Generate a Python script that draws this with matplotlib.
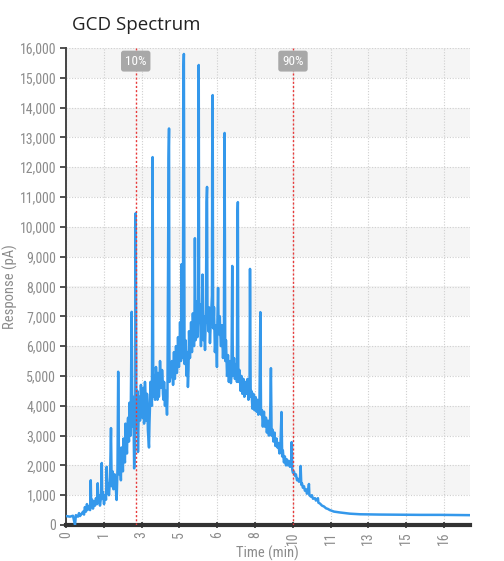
import numpy as np
import matplotlib
matplotlib.use("Agg")
import matplotlib.pyplot as plt
from matplotlib import font_manager

# retention time (min) and detector response (pA)
time_min = [
    0.00, 0.18, 0.31, 0.40, 0.44, 0.53, 0.58, 0.62, 0.67, 0.76, 0.80, 0.84, 0.89, 0.93, 0.98,
    1.02, 1.07, 1.10, 1.12, 1.16, 1.20, 1.24, 1.29, 1.33, 1.38, 1.41, 1.44, 1.47, 1.51, 1.56,
    1.59, 1.61, 1.64, 1.69, 1.73, 1.78, 1.81, 1.84, 1.87, 1.91, 1.96, 2.00, 2.03, 2.07, 2.11,
    2.16, 2.20, 2.25, 2.29, 2.32, 2.36, 2.40, 2.44, 2.49, 2.53, 2.58, 2.62, 2.67, 2.71, 2.76,
    2.80, 2.84, 2.87, 2.92, 2.95, 2.99, 3.03, 3.08, 3.10, 3.13, 3.17, 3.20, 3.24, 3.29, 3.33,
    3.38, 3.42, 3.47, 3.51, 3.56, 3.60, 3.64, 3.69, 3.73, 3.78, 3.82, 3.85, 3.88, 3.91, 3.96,
    4.00, 4.04, 4.09, 4.13, 4.18, 4.22, 4.27, 4.31, 4.36, 4.40, 4.44, 4.49, 4.56, 4.58, 4.60,
    4.71, 4.76, 4.80, 4.84, 4.89, 4.93, 4.98, 5.02, 5.07, 5.11, 5.14, 5.17, 5.20, 5.22, 5.24,
    5.27, 5.31, 5.36, 5.40, 5.42, 5.47, 5.51, 5.56, 5.60, 5.64, 5.69, 5.73, 5.76, 5.80, 5.84,
    5.88, 5.90, 5.92, 5.96, 6.00, 6.04, 6.07, 6.10, 6.13, 6.18, 6.22, 6.25, 6.27, 6.29, 6.36,
    6.40, 6.44, 6.49, 6.50, 6.52, 6.54, 6.58, 6.62, 6.67, 6.71, 6.76, 6.79, 6.84, 6.89, 6.93,
    6.98, 7.02, 7.05, 7.08, 7.11, 7.16, 7.20, 7.24, 7.29, 7.33, 7.39, 7.42, 7.47, 7.51, 7.56,
    7.60, 7.62, 7.64, 7.66, 7.71, 7.76, 7.80, 7.84, 7.89, 7.93, 7.98, 8.02, 8.07, 8.11, 8.16,
    8.18, 8.21, 8.24, 8.29, 8.33, 8.38, 8.42, 8.47, 8.51, 8.55, 8.60, 8.64, 8.67, 8.71, 8.75,
    8.80, 8.84, 8.89, 8.93, 8.98, 9.02, 9.07, 9.11, 9.14, 9.18, 9.22, 9.27, 9.31, 9.36, 9.40,
    9.44, 9.49, 9.53, 9.58, 9.61, 9.64, 9.69, 9.73, 9.78, 9.82, 9.87, 9.91, 9.96, 10.01, 10.03,
    10.06, 10.09, 10.13, 10.18, 10.22, 10.27, 10.31, 10.36, 10.40, 10.43, 10.46, 10.49, 10.53, 10.58, 10.62,
    10.67, 10.71, 10.76, 10.80, 10.82, 10.89, 10.93, 10.98, 11.07, 11.11, 11.20, 11.22, 11.29, 11.38, 11.47,
    11.56, 11.64, 11.73, 11.91, 12.18, 12.62, 13.07, 13.95, 14.84, 15.73, 16.62, 17.96,
]
response_pa = [
    300, 280, 310, 0, 330, 280, 400, 300, 350, 450, 350, 600, 450, 700, 520,
    620, 500, 1500, 600, 850, 550, 800, 650, 900, 700, 1400, 750, 1000, 650, 950,
    2080, 900, 1100, 700, 1000, 850, 1950, 1100, 1400, 1000, 1600, 3250, 1300, 1800, 1200,
    1700, 1400, 840, 1900, 5140, 1700, 2200, 1500, 2400, 1800, 2600, 2100, 3100, 2400, 3600,
    2800, 3900, 3000, 7150, 3300, 4300, 1900, 3600, 10460, 3200, 4500, 2450, 4200, 3500, 4700,
    3700, 4400, 3400, 4800, 3900, 4400, 3200, 2600, 3900, 4500, 4000, 12340, 4300, 5000, 4200,
    5300, 4500, 5100, 4300, 5500, 4600, 5200, 4400, 4800, 4000, 4500, 3700, 12300, 13300, 4800,
    5500, 4700, 5800, 4900, 6000, 5100, 6300, 5300, 6800, 5500, 8750, 5600, 6500, 15160, 15800,
    5400, 6200, 5000, 5800, 4630, 6500, 5600, 6800, 5800, 7100, 6000, 9620, 6200, 7500, 6300,
    7200, 15430, 6800, 7400, 6000, 7100, 8400, 6200, 7000, 5870, 7200, 10830, 11340, 6800, 7300,
    6100, 7000, 7700, 12340, 14420, 6600, 7300, 5800, 6700, 5300, 7950, 6400, 7000, 6000, 6700,
    5600, 6300, 13150, 5500, 6200, 5000, 5700, 4800, 5500, 4760, 8690, 5000, 5600, 4900, 5400,
    4800, 10300, 10830, 4900, 5200, 4500, 5000, 4400, 4900, 4300, 4800, 4400, 4900, 4200, 4600,
    8590, 4300, 4500, 3900, 4400, 3850, 4300, 3800, 4200, 3700, 4000, 7140, 3700, 3850, 3300,
    3800, 3300, 3600, 3100, 3500, 3000, 3300, 5260, 3000, 3200, 2800, 3100, 2650, 2900, 2600,
    2750, 2400, 2600, 3790, 2300, 2500, 2100, 2300, 2000, 2200, 2000, 2150, 1950, 2000, 2780,
    1850, 1750, 1800, 1650, 1700, 1500, 1550, 1450, 1500, 1980, 1350, 1400, 1250, 1300, 1150,
    1200, 1050, 1100, 1375, 1000, 950, 1000, 880, 900, 820, 900, 750, 720, 650, 620,
    560, 540, 500, 450, 420, 380, 360, 350, 345, 340, 340, 330,
]

# extra readings in the dense middle part of the trace
extra_time = [
    2.42, 2.465, 2.51, 2.555, 2.60, 2.645, 2.69, 2.735, 2.78, 2.82,
    3.22, 3.265, 3.31, 3.355, 3.40, 3.445, 3.49, 3.535, 3.58, 3.62, 3.71, 3.755, 3.80,
    3.935, 3.98, 4.02, 4.065, 4.11, 4.155, 4.20, 4.245, 4.29, 4.335, 4.38, 4.42, 4.465, 4.51,
    4.65, 4.735, 4.78, 4.82, 4.865, 4.91, 4.955, 5.00, 5.045, 5.09,
    5.29, 5.335, 5.38, 5.445, 5.49, 5.535, 5.58, 5.62, 5.665, 5.71, 5.78, 5.82, 5.86,
    5.94, 5.98, 6.02, 6.115, 6.155, 6.20, 6.31, 6.33, 6.38, 6.42, 6.465,
    6.56, 6.60, 6.645, 6.69, 6.73, 6.815, 6.86, 6.91, 6.955, 7.00,
    7.095, 7.135, 7.18, 7.22, 7.265, 7.31, 7.355, 7.445, 7.49, 7.535, 7.58,
    7.685, 7.735, 7.78, 7.82, 7.865, 7.91, 7.955, 8.00, 8.045, 8.09, 8.135,
]
extra_response = [
    1900, 2600, 2100, 2900, 2300, 3400, 2700, 3300, 3000, 4100,
    3300, 4300, 3900, 4100, 3600, 4600, 3700, 4300, 3500, 4100, 3400, 4800, 4300,
    4600, 4800, 5000, 4200, 4900, 4700, 5000, 4800, 5000, 4200, 4400, 4300, 4100, 4300,
    5000, 5200, 5300, 5200, 5300, 5700, 5500, 5800, 5800, 6200,
    5800, 5700, 5300, 5200, 6000, 6100, 6200, 6400, 6500, 6500, 6800, 6800, 6700,
    7000, 6500, 6500, 6600, 6400, 6500, 7000, 6500, 6700, 6500, 7300,
    6800, 6500, 6100, 6000, 6800, 6700, 6400, 6400, 6100, 6000,
    5800, 5600, 5300, 5200, 5100, 5200, 5000, 5300, 5300, 5100, 5200,
    4800, 4900, 4600, 4700, 4500, 4600, 4600, 4600, 4500, 4500, 4400,
]

x_ticks = np.arange(11) * 1.68
x_labels = ["0", "1", "3", "5", "6", "8", "10", "11", "13", "15", "16"]
y_ticks = np.arange(0, 16001, 1000)
marker_times = [3.10, 10.09]
marker_labels = ["10%", "90%"]


def pick_font(names):
    for n in names:
        try:
            font_manager.findfont(n, fallback_to_default=False)
            return n
        except ValueError:
            pass
    return "DejaVu Sans"


narrow = [pick_font(["Liberation Sans Narrow", "Roboto Condensed", "Noto Sans Condensed",
                     "DejaVu Sans Condensed", "Open Sans Condensed", "Roboto"]), "DejaVu Sans"]
grey = "#8c8c8c"

t_all = np.array(time_min + extra_time)
r_all = np.array(response_pa + extra_response)
order = np.argsort(t_all, kind="stable")

fig = plt.figure(figsize=(5.04, 5.61), dpi=100)
ax = fig.add_axes([66 / 504, 1 - 525 / 561, 404 / 504, 477 / 561])

# alternating light bands
for lo in range(1000, 16000, 2000):
    ax.axhspan(lo, lo + 1000, color="#f5f5f5", zorder=0, lw=0)

ax.plot(t_all[order], r_all[order], color="#3498eb", lw=1.8, zorder=3)

for t, lab in zip(marker_times, marker_labels):
    ax.axvline(t, color="#e83a3a", lw=1.0, ls=(0, (1.5, 1.5)), zorder=4)
    ax.text(t, 15560, lab, ha="center", va="center", color="white", fontsize=9.5,
            family=narrow, zorder=5,
            bbox=dict(boxstyle="round,pad=0.3,rounding_size=0.2", fc="#a8a8a8", ec="none"))

ax.set_xlim(0, 17.96)
ax.set_ylim(0, 16000)
ax.set_xticks(x_ticks)
ax.set_xticklabels(x_labels, rotation=90, family=narrow, fontsize=10, color=grey)
ax.set_yticks(y_ticks)
ax.set_yticklabels([f"{v:,}" for v in y_ticks], family=narrow, fontsize=10, color=grey)
ax.grid(True, ls=(0, (1, 1.5)), color="#cfcfcf", lw=0.8, zorder=1)
ax.set_axisbelow(True)

for side in ["top", "right"]:
    ax.spines[side].set_visible(False)
ax.spines["left"].set_color("#444444")
ax.spines["left"].set_linewidth(1.4)
ax.spines["bottom"].set_color("#333333")
ax.spines["bottom"].set_linewidth(3)
ax.tick_params(axis="y", length=4, width=1.2, color="#333333", pad=3)
ax.tick_params(axis="x", length=5, width=1.2, color="#333333", direction="inout", pad=2)

ax.set_xlabel("Time (min)", family=narrow, fontsize=10.5, color=grey)
ax.xaxis.set_label_coords((267 - 66) / 404, (525 - 546) / 477)
ax.set_ylabel("Response (pA)", family=narrow, fontsize=10.5, color=grey)
ax.yaxis.set_label_coords((18 - 66) / 404, 0.5)

fig.text(72 / 504, 1 - 25 / 561, "GCD Spectrum", fontsize=13.5, family=["Open Sans", "DejaVu Sans"],
         va="center", ha="left", color="#222222")

fig.savefig("out.png", dpi=100)
